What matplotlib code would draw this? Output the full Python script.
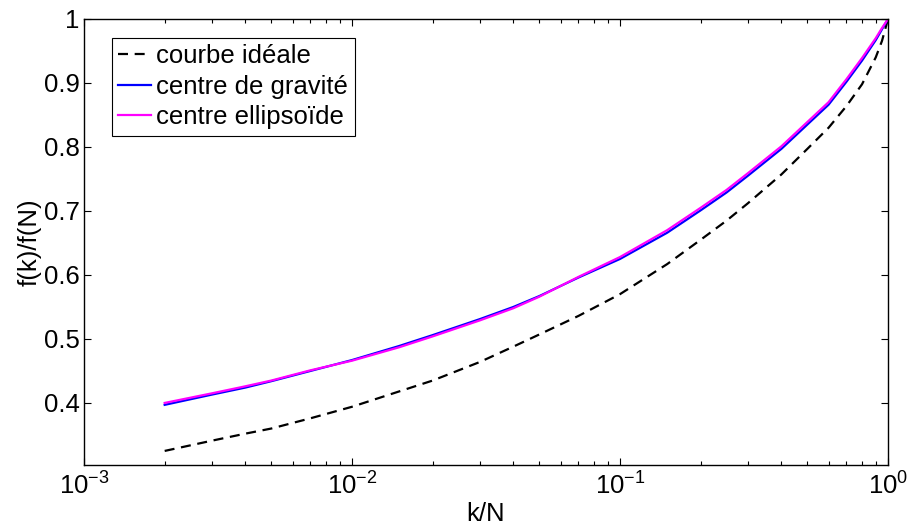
import matplotlib
matplotlib.use("Agg")
import matplotlib.pyplot as plt
from matplotlib.ticker import LogLocator, FixedLocator

plt.rcParams['font.family'] = ['Liberation Sans', 'DejaVu Sans']
plt.rcParams['mathtext.fontset'] = 'custom'
plt.rcParams['mathtext.rm'] = 'Liberation Sans'
plt.rcParams['mathtext.it'] = 'Liberation Sans'
plt.rcParams['mathtext.default'] = 'regular'

# values
k_over_n = [0.002, 0.003, 0.004, 0.005, 0.007, 0.01, 0.015, 0.02, 0.03, 0.04,
            0.05, 0.07, 0.1, 0.15, 0.2, 0.25, 0.3, 0.4, 0.5, 0.6,
            0.7, 0.8, 0.9, 0.95, 1.0]
ideal = [0.325, 0.341, 0.352, 0.360, 0.376, 0.394, 0.418, 0.435, 0.464, 0.488,
         0.507, 0.536, 0.570, 0.617, 0.655, 0.685, 0.712, 0.757, 0.797, 0.830,
         0.864, 0.898, 0.940, 0.966, 1.0]
gravity = [0.397, 0.413, 0.424, 0.434, 0.450, 0.467, 0.489, 0.506, 0.531, 0.550,
           0.567, 0.596, 0.625, 0.666, 0.701, 0.729, 0.755, 0.797, 0.835, 0.866,
           0.902, 0.935, 0.967, 0.984, 1.0]
ellipsoid = [0.400, 0.415, 0.426, 0.435, 0.451, 0.466, 0.487, 0.504, 0.529, 0.548,
             0.566, 0.597, 0.628, 0.670, 0.705, 0.733, 0.759, 0.801, 0.839, 0.870,
             0.906, 0.939, 0.970, 0.986, 1.0]
labels = ['courbe idéale', 'centre de gravité', 'centre ellipsoïde']

FS = 18.5

fig = plt.figure(figsize=(9.11, 5.32), dpi=100)
ax = fig.add_axes([84 / 911, 1 - 465 / 532, 804 / 911, 446 / 532])

ax.plot(k_over_n, ideal, color='k', lw=1.6, dashes=(4.5, 3), label=labels[0])
ax.plot(k_over_n, gravity, color='#0000ff', lw=1.6, label=labels[1])
ax.plot(k_over_n, ellipsoid, color='#ff00ff', lw=1.6, label=labels[2])

ax.set_xscale('log')
ax.set_xlim(1e-3, 1)
ax.set_ylim(0.303, 1)
ax.yaxis.set_major_locator(FixedLocator([0.4, 0.5, 0.6, 0.7, 0.8, 0.9, 1.0]))
ax.set_yticklabels(['0.4', '0.5', '0.6', '0.7', '0.8', '0.9', '1'])
ax.xaxis.set_major_locator(LogLocator(base=10, numticks=10))
ax.xaxis.set_minor_locator(LogLocator(base=10, subs=range(2, 10), numticks=10))

ax.tick_params(which='both', direction='in', top=True, right=True,
               labelsize=FS, width=0.8, color='k')
ax.tick_params(which='major', length=5)
ax.tick_params(which='minor', length=3)
ax.tick_params(axis='x', pad=5)
ax.tick_params(axis='y', pad=3)
for s in ax.spines.values():
    s.set_linewidth(1.0)

ax.set_xlabel('k/N', fontsize=FS, labelpad=2)
ax.set_ylabel('f(k)/f(N)', fontsize=FS, labelpad=2)

leg = ax.legend(loc='upper left', bbox_to_anchor=(28 / 804, 1 - 19 / 446),
                borderaxespad=0, fontsize=FS, handlelength=1.28, handletextpad=0.2,
                labelspacing=0.25, borderpad=0.25, fancybox=False, framealpha=1)
leg.get_frame().set_edgecolor('k')
leg.get_frame().set_linewidth(0.8)

fig.savefig('out.png', dpi=100)
